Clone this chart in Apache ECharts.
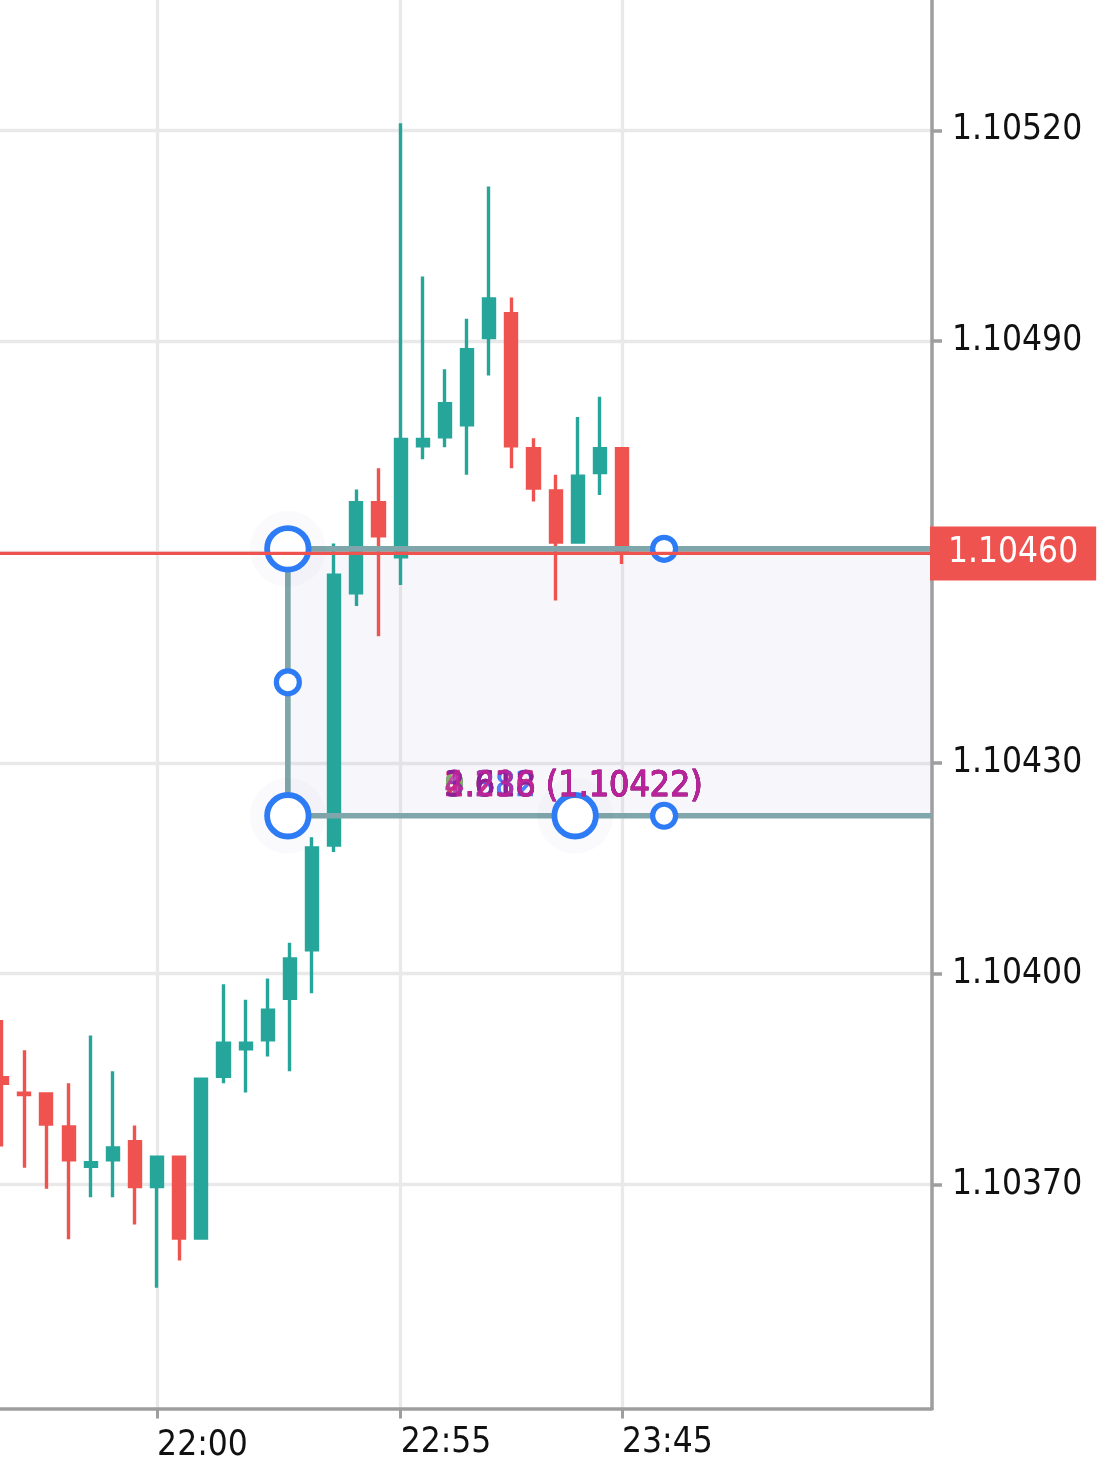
<!DOCTYPE html>
<html>
<head>
<meta charset="utf-8">
<script src="https://cdn.jsdelivr.net/npm/echarts@6/dist/echarts.min.js"></script>
<style>
html,body{margin:0;padding:0;background:#ffffff;}
#chart{width:1098px;height:1479px;}
</style>
</head>
<body>
<div id="chart"></div>
<script>
// ---- categories (5-minute bars) ----
const categories = [
  '21:20','21:25','21:30','21:35','21:40','21:45','21:50','21:55',
  '22:00','22:05','22:10','22:15','22:20','22:25','22:30','22:35','22:40','22:45','22:50','22:55',
  '23:00','23:05','23:10','23:15','23:20','23:25','23:30','23:35','23:40','23:45','23:50','23:55',
  '00:00','00:05','00:10','00:15','00:20','00:25','00:30','00:35','00:40','00:45','00:50','00:55'
];
const candleTimes = [
  '21:25','21:30','21:35','21:40','21:45','21:50','21:55','22:00','22:05','22:10',
  '22:15','22:20','22:25','22:30','22:35','22:40','22:45','22:50','22:55','23:00',
  '23:05','23:10','23:15','23:20','23:25','23:30','23:35','23:40','23:45'
];
const opens = [
  1.103852,1.103830,1.103829,1.103782,1.103726,1.103735,1.103761,1.103697,1.103739,1.103624,
  1.103854,1.103893,1.103906,1.103965,1.104034,1.104183,1.104542,1.104670,1.104593,1.104751,
  1.104764,1.104781,1.104905,1.104939,1.104747,1.104687,1.104614,1.104713,1.104747
];
const closes = [
  1.103844,1.103828,1.103786,1.103735,1.103731,1.103752,1.103697,1.103739,1.103624,1.103850,
  1.103901,1.103901,1.103948,1.104021,1.104179,1.104567,1.104670,1.104623,1.104760,1.104760,
  1.104811,1.104888,1.104960,1.104751,1.104691,1.104614,1.104708,1.104747,1.104598
];
const lows = [
  1.103754,1.103724,1.103694,1.103622,1.103682,1.103682,1.103643,1.103553,1.103592,1.103624,
  1.103844,1.103831,1.103882,1.103861,1.103972,1.104173,1.104523,1.104480,1.104553,1.104732,
  1.104749,1.104710,1.104851,1.104719,1.104672,1.104531,1.104614,1.104681,1.104583
];
const highs = [
  1.103934,1.103891,1.103829,1.103844,1.103912,1.103861,1.103784,1.103739,1.103739,1.103850,
  1.103985,1.103963,1.103993,1.104044,1.104194,1.104612,1.104689,1.104719,1.105210,1.104992,
  1.104860,1.104932,1.105120,1.104962,1.104762,1.104710,1.104792,1.104821,1.104747
];
// ---- axis ticks ----
const xLabels = ['22:00','22:55','23:45'];
const yTicks = [1.1037, 1.1040, 1.1043, 1.1046, 1.1049, 1.1052];
const yMin = 1.1033813;
const yMax = 1.1053854;

// ---- drawing tool (fib) anchors: x in bar-index units, y in price ----
const fibTop = 1.1046045;
const fibBottom = 1.1042247;
const fibLeftX = 13.905;
const fibMidX = 26.88;
const fibRightX = 30.90;
const fibLabelX = 20.95;
const fibLabelY = 1.1042656;
const fibLevels = ['0.236','0.382','0.618','1.618','2.618','3.618','4.236'];
const fibColors = ['#f23645','#2962ff','#8bc34a','#9c27b0','#e91e63','#7b1fa2','#c2259b'];
const fibPrice = '1.10422';

const FONT = "'DejaVu Sans Condensed', 'DejaVu Sans', sans-serif";
const UP = '#26a69a', DOWN = '#ef5350';
const AXIS = '#9e9e9e', GRIDC = '#e9e9e9';

const candleData = categories.map(c => {
  const i = candleTimes.indexOf(c);
  return i < 0 ? '-' : [opens[i], closes[i], lows[i], highs[i]];
});
const lastClose = closes[closes.length - 1];
const xMax = categories.length - 1;
const fibMid = (fibTop + fibBottom) / 2;
const showX = (idx, val) => xLabels.indexOf(val) >= 0;

const chart = echarts.init(document.getElementById('chart'), null, {renderer: 'canvas'});
chart.setOption({
  animation: false,
  backgroundColor: '#ffffff',
  grid: {left: -20, right: 166, top: 0, bottom: 70.5, containLabel: false, outerBoundsMode: 'none'},
  xAxis: [
    {
      type: 'category', data: categories, boundaryGap: false,
      axisLine: {show: true, onZero: false, lineStyle: {color: AXIS, width: 3.5}},
      axisTick: {show: true, interval: showX, length: 10, lineStyle: {color: AXIS, width: 3}},
      axisLabel: {
        interval: showX, align: 'left', margin: 17, fontSize: 35, lineHeight: 35,
        color: '#111111', fontFamily: FONT,
        formatter: v => v === xLabels[0] ? '{lo|' + v + '}' : v,
        rich: {lo: {padding: [5, 0, 0, 0], fontSize: 35, lineHeight: 35, color: '#111111', fontFamily: FONT}}
      },
      splitLine: {show: true, interval: showX, lineStyle: {color: GRIDC, width: 3.3}}
    },
    {type: 'value', min: 0, max: xMax, show: false}
  ],
  yAxis: {
    type: 'value', position: 'right', min: yMin, max: yMax, splitNumber: 7,
    axisLine: {show: true, onZero: false, lineStyle: {color: AXIS, width: 3.5}},
    axisTick: {show: true, length: 10, customValues: yTicks, lineStyle: {color: AXIS, width: 3.5}},
    axisLabel: {customValues: yTicks, formatter: v => v.toFixed(5), margin: 20, fontSize: 35,
      padding: [5, 0, 0, 0], color: '#111111', fontFamily: FONT},
    splitLine: {show: true, lineStyle: {color: GRIDC, width: 3.3}}
  },
  series: [
    {
      type: 'candlestick', data: candleData, xAxisIndex: 0, barWidth: 11.6, z: 2,
      clip: false,
      itemStyle: {color: UP, color0: DOWN, borderColor: UP, borderColor0: DOWN, borderWidth: 3.4},
      emphasis: {disabled: true}
    },
    {
      type: 'line', xAxisIndex: 1, data: [[fibLeftX, fibTop]], symbol: 'none', z: 3,
      lineStyle: {width: 0}, silent: true,
      markArea: {silent: true, itemStyle: {color: 'rgba(173,175,215,0.10)'},
        data: [[{coord: [fibLeftX, fibTop]}, {coord: [xMax, fibBottom]}]]}
    },
    {
      type: 'line', xAxisIndex: 1, symbol: 'none', z: 4, silent: true,
      data: [[xMax, fibTop], [fibLeftX, fibTop], [fibLeftX, fibBottom], [xMax, fibBottom]],
      lineStyle: {color: '#7fa6aa', width: 5.7}
    },
    {
      type: 'scatter', xAxisIndex: 1, z: 5, silent: true, symbolSize: 76,
      data: [[fibLeftX, fibTop], [fibLeftX, fibBottom], [fibMidX, fibBottom]],
      itemStyle: {color: 'rgba(60,60,110,0.022)', opacity: 1}
    },
    {
      type: 'scatter', xAxisIndex: 1, z: 6, silent: true, symbolSize: 41.5,
      data: [[fibLeftX, fibTop], [fibLeftX, fibBottom], [fibMidX, fibBottom]],
      itemStyle: {color: '#ffffff', borderColor: '#2d7cf6', borderWidth: 5.8, opacity: 1}
    },
    {
      type: 'scatter', xAxisIndex: 1, z: 6, silent: true, symbolSize: 23,
      data: [[fibLeftX, fibMid], [fibRightX, fibTop], [fibRightX, fibBottom]],
      itemStyle: {color: '#ffffff', borderColor: '#2d7cf6', borderWidth: 5.2, opacity: 1}
    },
    {
      type: 'scatter', xAxisIndex: 1, z: 7, silent: true, symbolSize: 1,
      itemStyle: {color: 'rgba(0,0,0,0)'},
      data: fibLevels.map((lv, i) => ({
        value: [fibLabelX, fibLabelY],
        label: {show: true, position: 'right', distance: 0, color: fibColors[i],
          textBorderColor: fibColors[i], textBorderWidth: 0.7,
          fontSize: 35.5, fontFamily: FONT, formatter: lv + ' (' + fibPrice + ')'}
      }))
    },
    {
      type: 'line', xAxisIndex: 1, symbol: 'none', z: 8, silent: true,
      data: [[0, lastClose], [xMax, lastClose]],
      lineStyle: {color: DOWN, width: 3.3},
      endLabel: {show: true, distance: -2, formatter: () => lastClose.toFixed(5),
        color: '#ffffff', backgroundColor: DOWN, padding: [9, 18, 9, 18],
        fontSize: 35, lineHeight: 36, fontFamily: FONT}
    }
  ]
});
</script>
</body>
</html>
